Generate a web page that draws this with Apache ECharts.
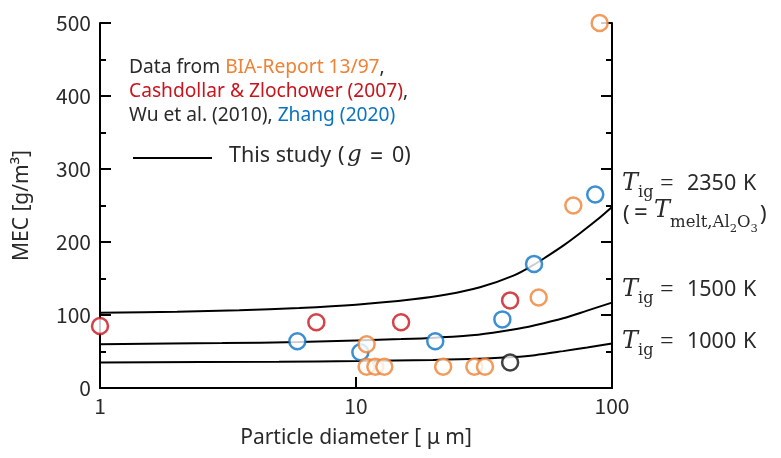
<!DOCTYPE html>
<html>
<head>
<meta charset="utf-8">
<script src="https://cdn.jsdelivr.net/npm/echarts@6/dist/echarts.min.js"></script>
<style>html,body{margin:0;padding:0;background:#fff;}#c{width:781px;height:458px;}</style>
</head>
<body>
<div id="c"></div>
<script>
// Data
const curve2350 = [[1,103],[2,104.5],[3.5,106.5],[6,109.5],[10,114],[16.7,121.5],[22.6,128],[30.5,138],[41.2,154],[49.6,169],[55.6,180],[64.5,195],[75,212],[87.2,230],[100,248]];
const curve1500 = [[1,60],[3,61.5],[6,63],[10,65],[15,67],[20.4,69],[30,73],[41.2,80],[50,86],[64.5,95.5],[80,106],[100,117]];
const curve1000 = [[1,35],[5,36],[10,37],[20,38.5],[30,40],[41.2,42.5],[50,45],[64.5,50.5],[80,55.5],[100,61]];
const cashdollar = [[1,85],[7,90],[15,90],[40,120]];
const zhang = [[5.9,64],[10.4,49],[20.4,64],[37.3,94],[49.6,170],[86,265]];
const bia = [[11,60],[11,29],[11.9,29],[12.9,29],[21.9,29],[29,29],[31.9,29],[51.7,124],[70.6,250],[89.5,500]];
const wu = [[40,35]];
const yTicks = [0,100,200,300,400,500];

const ORANGE = '#EF8234', RED = '#C8141C', BLUE = '#0B73C4', BLACK = '#111';
const CJK = '"Noto Sans CJK JP", "Noto Sans", sans-serif';
const SANS = '"Noto Sans", "Open Sans", sans-serif';
const SERIF = '"DejaVu Serif", "Liberation Serif", serif';
const TXT = '#2a2a2a';

const ctx = document.createElement('canvas').getContext('2d');
function measure(text, size, family, style){
  ctx.font = (style||'normal') + ' ' + size + 'px ' + family;
  return ctx.measureText(text).width;
}

const chart = echarts.init(document.getElementById('c'));

function curve(data){
  return {type:'line', data, showSymbol:false, smooth:0.3,
    lineStyle:{color:'#000', width:2}, z:2, silent:true};
}
function pts(data, color){
  return {type:'scatter', data, symbol:'circle', symbolSize:16,
    itemStyle:{color:'#fff', borderColor:color, borderWidth:2.5}, z:5};
}
function t(x, y, text, size, opts){
  return {type:'text', x, y, z:10, style:Object.assign({text, fontSize:size, fontFamily:SANS, fill:TXT,
    verticalAlign:'middle', textVerticalAlign:'middle', align:'left', textAlign:'left'}, opts||{})};
}
// lay pieces left to right, each piece: [text, size, family, fontStyle, dy, gapBefore]
function flow(x, y, pieces){
  const out = [];
  let cx = x;
  for (const p of pieces){
    const [text, size, fam, fst, dy, gap] = p;
    cx += gap || 0;
    out.push(t(cx, y + (dy||0), text, size, {fontFamily:fam, fontStyle:fst||'normal'}));
    cx += measure(text, size, fam, fst);
  }
  return out;
}
function tig(y, num){
  return [
    ...flow(622, y, [['T', 24, SERIF, 'italic', 0, 0], ['ig', 16, SERIF, 'normal', 9, 0]]),
    t(660, y, '=', 24, {fontWeight:300}),
    t(687, y, num, 21.5),
    t(743, y, 'K', 21.5)
  ];
}
function rich(y, text, styles){
  const r = {};
  for (const k in styles) r[k] = {fill:styles[k], fontSize:19.2, fontFamily:SANS};
  return {type:'text', x:129, y, z:10, style:{text, fontSize:19.2, fontFamily:SANS,
    verticalAlign:'middle', textVerticalAlign:'middle', rich:r}};
}

const graphics = [
  rich(68, '{d|Data from }{o|BIA-Report 13/97}{d|,}', {d:TXT, o:ORANGE}),
  rich(92, '{r|Cashdollar & Zlochower (2007)}{d|,}', {d:TXT, r:RED}),
  rich(116, '{d|Wu et al. (2010), }{b|Zhang (2020)}', {d:TXT, b:BLUE}),
  {type:'line', z:10, shape:{x1:133, y1:158, x2:212, y2:158}, style:{stroke:'#000', lineWidth:2}},
  t(229, 156, 'This study', 21.5),
  t(338, 156, '(', 21.5),
  t(347, 155, 'g', 23, {fontFamily:SERIF, fontStyle:'italic'}),
  t(370, 157, '=', 23),
  t(392, 156, '0)', 21.5),
  ...tig(184, '2350'),
  t(623, 215, '(', 22),
  t(634, 213, '=', 24),
  ...flow(654, 211, [
    ['T', 24, SERIF, 'italic', 0, 0],
    ['melt,Al', 16.5, SERIF, 'normal', 12, 0],
    ['2', 11.5, SERIF, 'normal', 18, 0],
    ['O', 16.5, SERIF, 'normal', 12, 0],
    ['3', 11.5, SERIF, 'normal', 18, 0],
    [')', 22, SANS, 'normal', 4, 2]
  ]),
  ...tig(290, '1500'),
  ...tig(342, '1000')
];

chart.setOption({
  animation:false,
  backgroundColor:'#fff',
  grid:{left:100, right:169, top:23, bottom:70, containLabel:false},
  xAxis:[{
    type:'log', logBase:10, min:1, max:100, position:'bottom',
    axisLine:{show:true, lineStyle:{color:'#000', width:2}},
    axisTick:{show:true, inside:true, length:11, lineStyle:{color:'#000', width:2}},
    minorTick:{show:false},
    splitLine:{show:false},
    axisLabel:{color:TXT, fontSize:21, fontFamily:CJK, margin:8},
    name:'Particle diameter [ μ m]', nameLocation:'middle', nameGap:40,
    nameTextStyle:{color:TXT, fontSize:21, fontFamily:SANS}
  },{
    type:'log', logBase:10, min:1, max:100, position:'top',
    axisLine:{show:true, lineStyle:{color:'#000', width:2}},
    axisTick:{show:false}, axisLabel:{show:false}, splitLine:{show:false}
  }],
  yAxis:[{
    type:'value', min:yTicks[0], max:yTicks[yTicks.length-1], interval:100, position:'left',
    axisLine:{show:true, lineStyle:{color:'#000', width:2}},
    axisTick:{show:true, inside:true, length:11, lineStyle:{color:'#000', width:2}},
    minorTick:{show:true, splitNumber:2, length:6, lineStyle:{color:'#000', width:2}},
    splitLine:{show:false},
    axisLabel:{color:TXT, fontSize:21, fontFamily:CJK, margin:9},
    name:'MEC [g/m³]', nameLocation:'middle', nameGap:67, nameRotate:90,
    nameTextStyle:{color:TXT, fontSize:21, fontFamily:SANS}
  },{
    type:'value', min:0, max:500, interval:100, position:'right',
    axisLine:{show:true, lineStyle:{color:'#000', width:2}},
    axisTick:{show:true, inside:true, length:11, lineStyle:{color:'#000', width:2}},
    minorTick:{show:true, splitNumber:2, length:6, lineStyle:{color:'#000', width:2}},
    splitLine:{show:false}, axisLabel:{show:false}
  }],
  series:[
    curve(curve2350), curve(curve1500), curve(curve1000),
    pts(cashdollar, RED), pts(zhang, BLUE), pts(bia, ORANGE), pts(wu, BLACK)
  ],
  graphic: graphics
});
</script>
</body>
</html>
